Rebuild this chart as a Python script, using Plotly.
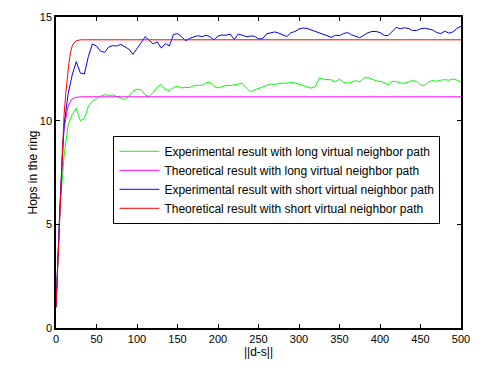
import plotly.graph_objects as go

# ---- data ----
x_exp = list(range(0, 505, 5))

exp_long = [1.0, 5.8, 8.3, 9.8, 10.3, 10.6, 10.0, 10.1, 10.7, 10.95,
            11.05, 11.18, 11.25, 11.22, 11.24, 11.17, 11.12, 11.02, 11.18, 11.42,
            11.52, 11.5, 11.25, 11.16, 11.36, 11.62, 11.74, 11.5, 11.45, 11.6,
            11.66, 11.58, 11.6, 11.6, 11.68, 11.71, 11.7, 11.82, 11.86, 11.65,
            11.58, 11.64, 11.7, 11.69, 11.72, 11.78, 11.8, 11.58, 11.4, 11.48,
            11.56, 11.62, 11.72, 11.77, 11.75, 11.78, 11.82, 11.8, 11.84, 11.82,
            11.76, 11.7, 11.64, 11.57, 11.64, 12.05, 12.0, 11.97, 11.97, 11.87,
            12.0, 11.85, 11.8, 11.86, 11.93, 11.87, 12.05, 12.08, 12.0, 11.93,
            11.89, 11.84, 11.72, 11.9, 11.88, 11.82, 11.8, 11.86, 11.93, 11.9,
            11.72, 11.7, 11.87, 11.93, 11.9, 11.95, 11.98, 11.95, 12.01, 11.96,
            11.86]

exp_short = [1.0, 6.0, 9.8, 11.3, 12.2, 12.85, 12.3, 12.25, 13.1, 13.7,
             13.6, 13.35, 13.3, 13.55, 13.62, 13.6, 13.68, 13.55, 13.45, 13.2,
             13.45, 13.75, 14.05, 13.85, 13.7, 13.8, 13.5, 13.72, 13.6, 14.15,
             14.2, 14.05, 13.85, 13.97, 14.05, 14.1, 14.05, 14.12, 14.05, 13.9,
             14.08, 14.13, 14.12, 14.18, 13.92, 14.18, 14.12, 14.05, 14.08, 14.07,
             13.95, 13.95, 14.19, 14.24, 14.28, 14.22, 14.14, 14.06, 14.24, 14.3,
             14.42, 14.47, 14.45, 14.38, 14.3, 14.22, 14.16, 14.08, 14.02, 14.12,
             14.1, 14.2, 14.25, 14.14, 14.06, 14.0, 14.12, 14.24, 14.3, 14.3,
             14.25, 14.12, 14.1, 14.3, 14.5, 14.43, 14.48, 14.45, 14.35, 14.35,
             14.43, 14.46, 14.43, 14.38, 14.25, 14.2, 14.32, 14.22, 14.28, 14.45,
             14.55]

x_theo_long = [0, 2, 4, 6, 8, 10, 12, 14, 16, 18, 20, 24, 30, 500]
theo_long = [1.0, 3.0, 5.0, 7.0, 8.7, 9.6, 10.2, 10.55, 10.8, 10.95, 11.05, 11.12, 11.15, 11.15]

x_theo_short = [0, 2, 4, 6, 8, 10, 12, 14, 16, 18, 20, 22, 25, 30, 500]
theo_short = [1.0, 3.0, 5.0, 7.0, 9.0, 10.3, 11.3, 12.1, 12.8, 13.3, 13.6, 13.75, 13.85, 13.9, 13.9]

names = ["Experimental result with long virtual neighbor path",
         "Theoretical result with long virtual neighbor path",
         "Experimental result with short virtual neighbor path",
         "Theoretical result with short virtual neighbor path"]
colors = ["#00ff00", "#ff00ff", "#0000ff", "#ff0000"]

series = [(x_exp, exp_long), (x_theo_long, theo_long),
          (x_exp, exp_short), (x_theo_short, theo_short)]

fig = go.Figure()
for (xs, ys), nm, c in zip(series, names, colors):
    fig.add_trace(go.Scatter(x=xs, y=ys, mode="lines", name=nm,
                             line=dict(color=c, width=1)))

fam = "Liberation Sans, Arial, sans-serif"
tick_font = dict(family=fam, size=11, color="black")
text_font = dict(family=fam, size=12, color="black")
axis_common = dict(showline=True, linecolor="black", linewidth=1.5, mirror="ticks",
                   ticks="inside", ticklen=4, tickwidth=1, tickcolor="black",
                   showgrid=False, zeroline=False, tickfont=tick_font)

fig.update_layout(
    width=481, height=367,
    margin=dict(l=56, r=16, t=11, b=34),
    paper_bgcolor="white", plot_bgcolor="white",
    font=text_font,
    showlegend=True,
    legend=dict(x=0.1418, y=0.618, xanchor="left", yanchor="top",
                bordercolor="black", borderwidth=1, bgcolor="white",
                font=text_font, itemwidth=40, tracegroupgap=0),
    xaxis=dict(range=[0, 500], dtick=50, tick0=0,
               title=dict(text="||d-s||", font=text_font, standoff=3), **axis_common),
    yaxis=dict(range=[0, 15], dtick=5, tick0=0,
               title=dict(text="Hops in the ring", font=text_font, standoff=0), **axis_common),
)

fig.write_html("out.html")
